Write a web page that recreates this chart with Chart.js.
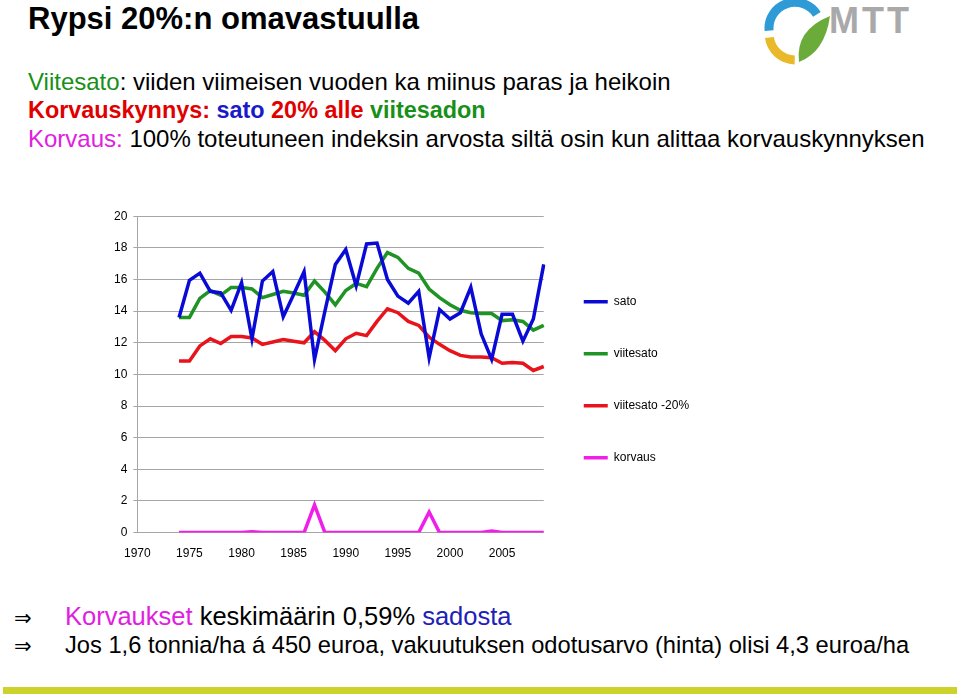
<!DOCTYPE html>
<html lang="fi">
<head>
<meta charset="utf-8">
<title>Rypsi 20%:n omavastuulla</title>
<script src="https://cdn.jsdelivr.net/npm/chart.js@4/dist/chart.umd.min.js"></script>
<style>
    body { margin: 0; background: #fff; font-family: "Liberation Sans", Arial, sans-serif; }
    #sivu { position: relative; width: 960px; height: 696px; overflow: hidden; }
    .otsikko { position: absolute; left: 28px; top: 1px; font-size: 31px; font-weight: bold; color: #000; }
    .rivi { position: absolute; left: 28px; font-size: 24px; color: #000; white-space: nowrap; }
    .ala { position: absolute; left: 14px; color: #000; white-space: nowrap; }
    .ala .nuoli { display: inline-block; width: 51px; font-family: "DejaVu Sans", sans-serif; font-size: 21px; }
    #kaavio { position: absolute; left: 60px; top: 203px; width: 629px; height: 364px; }
    #palkki { position: absolute; left: 3px; top: 687px; width: 954px; height: 7px; background: #cdd32a; }
</style>
</head>
<body>
<div id="sivu">
    <div class="otsikko">Rypsi 20%:n omavastuulla</div>

    <!-- MTT logo -->
    <svg style="position:absolute;left:0;top:0" width="960" height="70">
        <path d="M769.1,30.7 A26,26 0 0 1 816.9,14.3" fill="none" stroke="#2e9bd6" stroke-width="9"/>
        <path d="M769.4,37.5 A26,26 0 0 0 794.7,59.9" fill="none" stroke="#eab92a" stroke-width="9"/>
        <path d="M799,62 Q795,30 830,16 Q825,52 799,62 Z" fill="#6aab3a"/>
        <text x="829" y="33" font-family="Liberation Sans, Arial, sans-serif" font-weight="bold" font-size="36" fill="#a9a9a9" letter-spacing="3">MTT</text>
    </svg>

    <div class="rivi" style="top:68px"><span style="color:#189018">Viitesato</span>: viiden viimeisen vuoden ka miinus paras ja heikoin</div>
    <div class="rivi" style="top:97px;font-weight:bold;font-size:23.4px"><span style="color:#e00000">Korvauskynnys: </span><span style="color:#1a1ac8">sato</span><span style="color:#e00000"> 20% alle </span><span style="color:#189018">viitesadon</span></div>
    <div class="rivi" style="top:125px"><span style="color:#e020e0">Korvaus: </span>100% toteutuneen indeksin arvosta siltä osin kun alittaa korvauskynnyksen</div>

    <div id="kaavio"><canvas id="graafi"></canvas></div>

    <div class="ala" style="top:602px;font-size:25.5px"><span class="nuoli">&rArr;</span><span style="color:#e020e0">Korvaukset</span> keskimäärin 0,59% <span style="color:#2020b8">sadosta</span></div>
    <div class="ala" style="top:632px;font-size:23.7px"><span class="nuoli">&rArr;</span>Jos 1,6 tonnia/ha á 450 euroa, vakuutuksen odotusarvo (hinta) olisi 4,3 euroa/ha</div>

    <div id="palkki"></div>
</div>

<script>
// Vuodet (kategoriat) - akselilla näkyy joka viides vuosi
const vuodet = ['1970','1971','1972','1973','1974','1975','1976','1977','1978','1979',
                '1980','1981','1982','1983','1984','1985','1986','1987','1988','1989',
                '1990','1991','1992','1993','1994','1995','1996','1997','1998','1999',
                '2000','2001','2002','2003','2004','2005','2006','2007','2008','2009'];

// Sarjat, 1970-1973 ei dataa
const sato = [null, null, null, null,
    13.6, 15.95, 16.4, 15.25, 15.15, 14.05, 15.8, 12.25, 15.9, 16.5,
    13.65, 15.05, 16.5, 10.95, 14.0, 16.95, 17.9, 15.6, 18.25, 18.3,
    16.0, 14.95, 14.5, 15.25, 11.05, 14.1, 13.5, 13.9, 15.5, 12.55,
    10.95, 13.8, 13.8, 12.1, 13.5, 16.95];

const viitesato = [null, null, null, null,
    13.6, 13.6, 14.8, 15.3, 15.0, 15.5, 15.5, 15.4, 14.85, 15.05,
    15.25, 15.15, 15.0, 15.9, 15.2, 14.4, 15.3, 15.75, 15.55, 16.7,
    17.7, 17.4, 16.7, 16.4, 15.4, 14.85, 14.4, 14.05, 13.9, 13.85,
    13.85, 13.4, 13.45, 13.35, 12.8, 13.1];

const viitesato20 = [null, null, null, null,
    10.85, 10.85, 11.8, 12.25, 11.95, 12.4, 12.4, 12.3, 11.9, 12.05,
    12.2, 12.1, 12.0, 12.7, 12.15, 11.5, 12.25, 12.6, 12.45, 13.35,
    14.15, 13.9, 13.35, 13.1, 12.35, 11.9, 11.5, 11.2, 11.1, 11.1,
    11.05, 10.7, 10.75, 10.7, 10.25, 10.5];

const korvaus = [null, null, null, null,
    0, 0, 0, 0, 0, 0, 0, 0.05, 0, 0,
    0, 0, 0, 1.75, 0, 0, 0, 0, 0, 0,
    0, 0, 0, 0, 1.3, 0, 0, 0, 0, 0,
    0.1, 0, 0, 0, 0, 0];

const yTikit = [0, 2, 4, 6, 8, 10, 12, 14, 16, 18, 20];

const fontti = "'Liberation Sans', Arial, sans-serif";

function sarja(nimi, arvot, vari) {
    return {
        label: nimi,
        data: arvot,
        borderColor: vari,
        backgroundColor: vari,
        borderWidth: 3.5,
        pointRadius: 0,
        tension: 0,
        fill: false
    };
}

const canvas = document.getElementById('graafi');
new Chart(canvas, {
    type: 'line',
    data: {
        labels: vuodet,
        datasets: [
            sarja('sato', sato, '#0a0ad6'),
            sarja('viitesato', viitesato, '#1f9324'),
            sarja('viitesato -20%', viitesato20, '#e8141c'),
            sarja('korvaus', korvaus, '#f01ee8')
        ]
    },
    options: {
        responsive: true,
        maintainAspectRatio: false,
        animation: false,
        layout: { padding: { left: 48, top: 12, right: 0, bottom: 0 } },
        plugins: {
            tooltip: { enabled: false },
            legend: {
                position: 'right',
                align: 'center',
                fullSize: false,
                // tyhjä otsikko siirtää selitettä hieman alaspäin
                title: { display: true, text: ' ', padding: 0, font: { size: 9 } },
                labels: {
                    usePointStyle: true,
                    pointStyle: 'line',
                    pointStyleWidth: 24,
                    boxHeight: 12,
                    padding: 40,
                    color: '#000',
                    font: { family: fontti, size: 12 }
                }
            }
        },
        scales: {
            x: {
                grid: { display: false },
                border: { display: false },
                ticks: {
                    autoSkip: false,
                    maxRotation: 0,
                    padding: 6,
                    color: '#000',
                    font: { family: fontti, size: 12 },
                    callback: function(val, i) {
                        const v = vuodet[i];
                        return (Number(v) % 5 === 0) ? v : '';
                    }
                }
            },
            y: {
                min: 0,
                max: 20,
                afterBuildTicks: function(akseli) {
                    akseli.ticks = yTikit.map(v => ({ value: v }));
                },
                grid: { color: '#a6a6a6', lineWidth: 1, tickLength: 4 },
                border: { display: true, color: '#a6a6a6' },
                ticks: {
                    padding: 6,
                    color: '#000',
                    font: { family: fontti, size: 12 }
                }
            }
        }
    }
});
</script>
</body>
</html>
